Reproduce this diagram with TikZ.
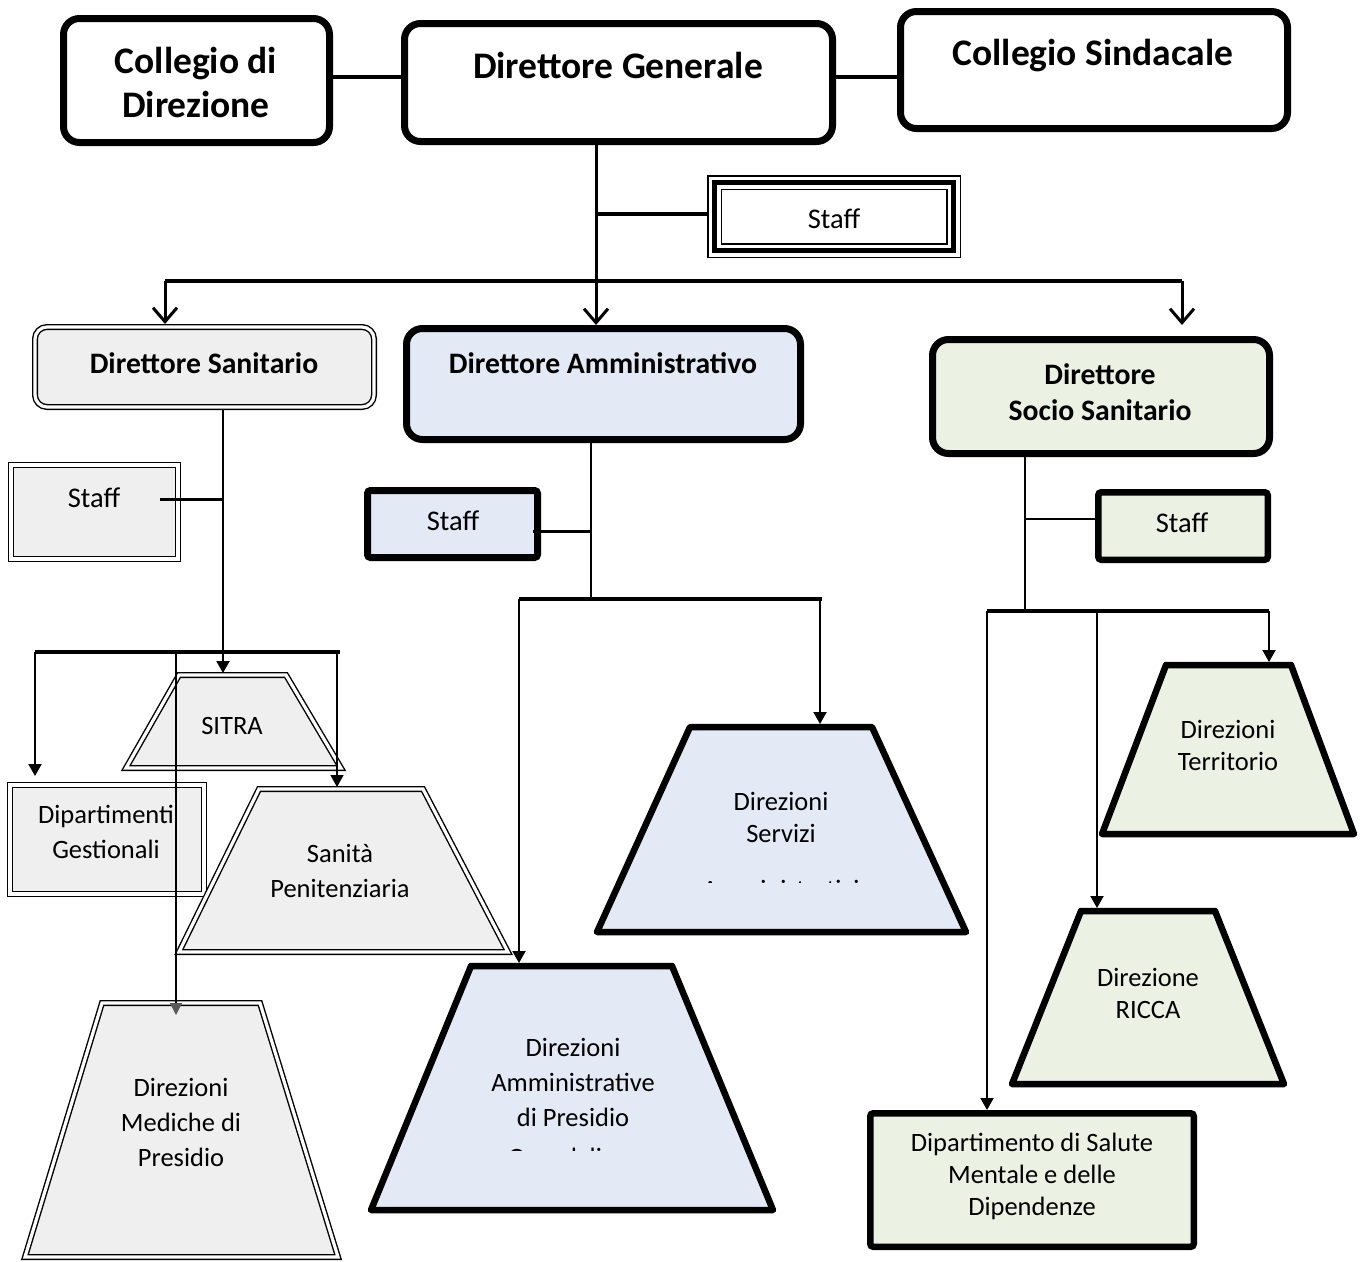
\documentclass[tikz,border=0pt]{standalone}
\usepackage{fontspec}
\setmainfont{Carlito}
\usetikzlibrary{arrows.meta}
\definecolor{gfill}{HTML}{EFEFEF}
\definecolor{bfill}{HTML}{E4E9F6}
\definecolor{vfill}{HTML}{EBF1E3}
\begin{document}
\begin{tikzpicture}[x=1pt,y=-1pt,
  big/.style={font=\fontsize{37.5}{44}\selectfont\bfseries, align=center, inner sep=0pt},
  mid/.style={font=\fontsize{29.7}{36}\selectfont\bfseries, align=center, inner sep=0pt},
  txt/.style={font=\fontsize{26.5}{32}\selectfont, align=center, inner sep=0pt},
  txtw/.style={font=\fontsize{26.5}{35}\selectfont, align=center, inner sep=0pt},
  stafftxt/.style={font=\fontsize{28.5}{34}\selectfont, inner sep=0pt, anchor=base},
  heavybox/.style={draw, line width=7pt, rounded corners=16pt, inner sep=0pt},
  heavy/.style={draw, line width=6.5pt, line join=round},
  dbl/.style={draw, line width=1.4pt, double=white, double distance=3.2pt},
  dblbox/.style={dbl, inner sep=0pt, outer sep=3pt},
  vee/.style={-{Straight Barb[length=14pt,width=24pt]}},
  tri/.style={-{Triangle[length=12pt,width=13pt]}},
]
\useasboundingbox (0,0) rectangle (1367,1261);

% ---------- top row ----------
\node[heavybox, minimum width=266pt, minimum height=124pt] (cd) at (196.5,80.5) {};
\node[big] (cdt) at (196,82) {Collegio di\\Direzione};
\node[heavybox, minimum width=428pt, minimum height=118pt] (dg) at (618.5,82.5) {};
\node[big, anchor=base] (dgt) at (618,78) {Direttore Generale};
\node[heavybox, minimum width=387pt, minimum height=117pt] (cs) at (1094,70) {};
\node[big, anchor=base] (cst) at (1093,65) {Collegio Sindacale};

% staff of DG (triple border)
\node[draw, line width=1.5pt, minimum width=252.5pt, minimum height=81.5pt, inner sep=0pt, outer sep=0pt] (stf) at (834,216.5) {};
\draw[line width=5pt] ([shift={(6.5,6.5)}]stf.north west) rectangle ([shift={(-6.5,-6.5)}]stf.south east);
\draw[line width=1.5pt] ([shift={(13.5,13.5)}]stf.north west) rectangle ([shift={(-13.5,-13.5)}]stf.south east);
\node[stafftxt] (stft) at (834,228) {Staff};

% ---------- second row ----------
\node[dblbox, fill=gfill, rounded corners=12pt, minimum width=339pt, minimum height=80pt] (ds) at (204.5,367) {};
\node[mid, anchor=base] (dst) at (204,373) {Direttore Sanitario};
\node[heavybox, fill=bfill, minimum width=394pt, minimum height=111pt] (da) at (603.5,384) {};
\node[mid, anchor=base] (dat) at (603,373) {Direttore Amministrativo};
\node[heavybox, fill=vfill, minimum width=337pt, minimum height=114pt] (dss) at (1101,396.5) {};
\node[mid] (dsst) at (1100,392) {Direttore\\Socio Sanitario};

% ---------- staff boxes ----------
\node[dblbox, fill=gfill, minimum width=167pt, minimum height=94pt] (sts) at (94.5,512) {};
\node[stafftxt] (stst) at (94,507) {Staff};
\node[draw, line width=7pt, rounded corners=3pt, fill=bfill, minimum width=170pt, minimum height=67pt, inner sep=0pt] (sta) at (452.5,524) {};
\node[stafftxt] (stat) at (453,530) {Staff};
\node[draw, line width=6.5pt, rounded corners=3pt, fill=vfill, minimum width=169.5pt, minimum height=67.5pt, inner sep=0pt] (stv) at (1183,526) {};
\node[stafftxt] (stvt) at (1182,532) {Staff};

% ---------- Sanitario children ----------
\draw[dbl, fill=gfill] (179,675) -- (286,675) -- (341,768) -- (126,768) -- cycle;
\node[txt, anchor=base] (sitra) at (232,734) {SITRA};
\node[dblbox, fill=gfill, minimum width=194pt, minimum height=109pt] (dip) at (107,839.5) {};
\node[txtw] (dipt) at (106,832) {Dipartimenti\\Gestionali};
\draw[dbl, fill=gfill] (259,789) -- (423,789) -- (508,952) -- (179,952) -- cycle;
\node[txtw] (sant) at (340,871) {Sanità\\Penitenziaria};
\draw[dbl, fill=gfill] (102,1003) -- (260,1003) -- (338,1257) -- (25,1257) -- cycle;
\node[txtw] (medt) at (181,1122) {Direzioni\\Mediche di\\Presidio};

% ---------- Amministrativo children ----------
\draw[heavy, fill=bfill] (690,727) -- (872,727) -- (966,932) -- (597,932) -- cycle;
\node[txt] (sert) at (781,817) {Direzioni\\Servizi};
\begin{scope}
  \clip (690,860) rectangle (880,882);
  \node[txt, anchor=base] (sert3) at (781,898) {Amministrativi};
\end{scope}
\draw[heavy, fill=bfill] (471,966) -- (672,966) -- (773,1210) -- (371,1210) -- cycle;
\node[txtw] (ampt) at (573,1082) {Direzioni\\Amministrative\\di Presidio};
\begin{scope}
  \clip (480,1135) rectangle (670,1150);
  \node[txt, anchor=base] (ampt4) at (573,1166) {Ospedaliero};
\end{scope}

% ---------- Socio Sanitario children ----------
\draw[heavy, fill=vfill] (1166,665) -- (1291,665) -- (1354,834) -- (1102,834) -- cycle;
\node[txt] (tert) at (1228,745) {Direzioni\\Territorio};
\draw[heavy, fill=vfill] (1081,911) -- (1215,911) -- (1284,1084) -- (1012,1084) -- cycle;
\node[txt] (rict) at (1148,993) {Direzione\\RICCA};
\node[draw, line width=6.5pt, rounded corners=3pt, fill=vfill, minimum width=323.5pt, minimum height=133.5pt, inner sep=0pt] (dsm) at (1032,1180) {};
\node[txt] (dsmt) at (1032,1176.5) {Dipartimento di Salute\\Mentale e delle\\Dipendenze};

% ---------- connectors: top ----------
\coordinate (y77) at (0,77);
\draw[line width=4pt] (cd.east |- y77) -- (dg.west |- y77);
\draw[line width=4pt] (dg.east |- y77) -- (cs.west |- y77);
\coordinate (xg) at (596,0);
\draw[line width=3pt, vee] (dg.south -| xg) -- (da.north -| xg);
\coordinate (g1) at (596,214);
\draw[line width=4.5pt] (g1) -- (stf.west |- g1);
\coordinate (tbL) at (165,281);
\coordinate (tbR) at (1182,281);
\coordinate (dssin) at (1182,325);
\draw[line width=3.5pt] (tbL) -- (tbR);
\draw[line width=3pt, vee] (tbL) -- (tbL |- ds.north);
\draw[line width=3pt, vee] (tbR) -- (dssin);

% ---------- connectors: Sanitario ----------
\coordinate (xs) at (223,0);
\coordinate (sitrain) at (223,673);
\draw[line width=2pt, tri] (ds.south -| xs) -- (sitrain);
\coordinate (ss1) at (160,499);
\draw[line width=3pt] (ss1) -- (ss1 -| xs);
\coordinate (sbL) at (35,652);
\coordinate (sbR) at (340,652);
\draw[line width=4pt] (sbL) -- (sbR);
\coordinate (dipin) at (35,776);
\draw[line width=2pt, tri] (sbL) -- (dipin);
\coordinate (sanin) at (337,787);
\draw[line width=1.5pt, tri] (sanin |- sbL) -- (sanin);
\coordinate (medin) at (176,1015);
\draw[line width=1.5pt, -{Triangle[length=12pt,width=12pt,color=black!65]}] (medin |- sbL) -- (medin);

% ---------- connectors: Amministrativo ----------
\coordinate (xa) at (591,0);
\coordinate (ab) at (591,599);
\draw[line width=2.5pt] (da.south -| xa) -- (ab);
\coordinate (sa1) at (533,531);
\draw[line width=3pt] (sa1) -- (sa1 -| xa);
\coordinate (abL) at (519,599);
\coordinate (abR) at (822,599);
\draw[line width=3.5pt] (abL) -- (abR);
\coordinate (ampin) at (519,963);
\draw[line width=2pt, tri] (abL) -- (ampin);
\coordinate (serin) at (820,724);
\draw[line width=2pt, tri] (serin |- abL) -- (serin);

% ---------- connectors: Socio Sanitario ----------
\coordinate (xv) at (1025,0);
\coordinate (vb) at (1025,611);
\draw[line width=2.5pt] (dss.south -| xv) -- (vb);
\coordinate (sv1) at (1025,519);
\draw[line width=1.5pt] (sv1) -- (sv1 -| stv.west);
\coordinate (vbL) at (987,611);
\coordinate (vbR) at (1269,611);
\draw[line width=3.5pt] (vbL) -- (vbR);
\draw[line width=2pt, tri] (vbL) -- (vbL |- dsm.north);
\coordinate (ricin) at (1097,908);
\draw[line width=2pt, tri] (ricin |- vbL) -- (ricin);
\coordinate (terin) at (1269,662);
\draw[line width=2pt, tri] (vbR) -- (terin);
\end{tikzpicture}
\end{document}
